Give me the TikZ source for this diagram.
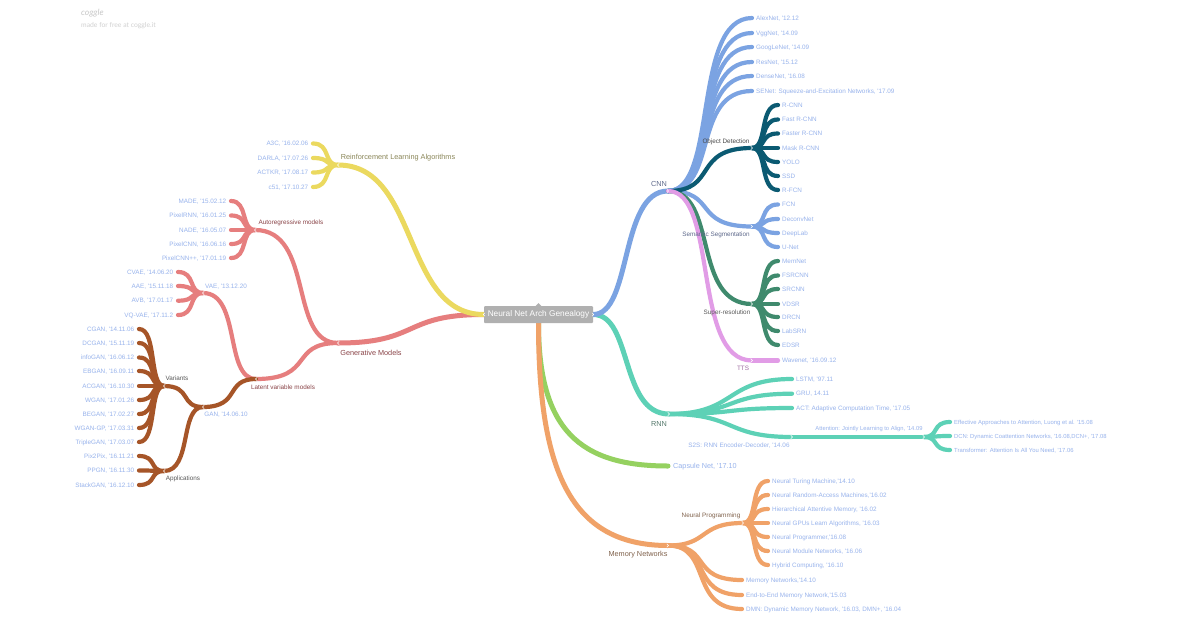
\documentclass[tikz,border=0pt]{standalone}
\usepackage{fontspec}
\usetikzlibrary{calc}
\newfontfamily\lab{Liberation Sans}
\newfontfamily\logofont{Lato}
\definecolor{cblue}{HTML}{7BA3E2}
\definecolor{cteal}{HTML}{0B5A72}
\definecolor{cgreen}{HTML}{3F8A6D}
\definecolor{cpink}{HTML}{E19CE6}
\definecolor{cmint}{HTML}{5DD1B6}
\definecolor{clime}{HTML}{95D160}
\definecolor{corange}{HTML}{F0A268}
\definecolor{cyel}{HTML}{EBD95F}
\definecolor{cred}{HTML}{E67E7E}
\definecolor{cbrown}{HTML}{A65528}
\definecolor{leaftxt}{HTML}{98B3EC}
\definecolor{tolive}{HTML}{8A8658}
\definecolor{tred}{HTML}{8A4448}
\definecolor{tbrown}{HTML}{80624C}
\definecolor{tblue}{HTML}{5F6A8C}
\definecolor{tgreen}{HTML}{55796C}
\pgfdeclarelayer{bg}
\pgfsetlayers{bg,main}
\def\lfs{6.33}
\tikzset{
  br/.style={draw=#1,line cap=round},
  leafr/.style={anchor=west,inner xsep=4pt,inner ysep=0pt,text height=6pt,text depth=1.5pt,text=leaftxt,font=\lab\fontsize{\lfs}{8}\selectfont},
  leafl/.style={leafr,anchor=east,inner xsep=4.6pt},
  tag/.style={inner sep=0pt,font=\lab\fontsize{6.35}{8}\selectfont},
  big/.style={inner sep=0pt,font=\lab\fontsize{7.3}{9}\selectfont},
  chev/.style={draw=white,line width=.5pt},
}
\def\fa{.6}\def\fb{.72}\def\cc{cblue}\def\cw{4.2pt}
\newcommand\cn[2]{\begin{pgfonlayer}{bg}\draw[br=\cc,line width=\cw] (#1) .. controls ($(#1)!\fa!(#1-|#2)$) and ($(#2)!\fb!(#2-|#1)$) .. (#2);\end{pgfonlayer}}
\newcommand\rleaf[5]{\node[leafr] (#2) at (#3,#4) {#5};\cn{#1}{#2.west}}
\newcommand\lleaf[5]{\node[leafl] (#2) at (#3,#4) {#5};\cn{#1}{#2.east}}
\newcommand\chv[2]{\draw[chev,shift={(#1)},xscale=#2] (-1.2,-1.6) -- (.6,0) -- (-1.2,1.6);}
\begin{document}
\begin{tikzpicture}[x=1pt,y=-1pt]
\useasboundingbox (0,0) rectangle (1200,630);
\begin{pgfonlayer}{bg}
\fill[white] (0,0) rectangle (1200,630);
\end{pgfonlayer}
% logo
\node[anchor=west,inner sep=0pt,text=black!22,font=\logofont\itshape\fontsize{8.5}{9}\selectfont] (lg1) at (81,13) {coggle};
\node[anchor=west,inner sep=0pt,text=black!18,font=\logofont\fontsize{6.8}{8}\selectfont] (lg2) at (81,25.5) {made for free at coggle.it};
% root
\node[fill=black!31,rounded corners=1pt,minimum width=109pt,minimum height=17pt,inner sep=0pt,text=white,font=\lab\fontsize{8.3}{10}\selectfont] (root) at (538.5,314.5) {Neural Net Arch Genealogy};
\fill[black!31] (535.5,306) -- (538.5,303) -- (541.5,306) -- cycle;
% junctions
\coordinate (cnn) at (668,191);
\coordinate (od) at (752,148);
\coordinate (ss) at (752,226.5);
\coordinate (sr) at (752,304);
\coordinate (tts) at (752,360.5);
\coordinate (rnn) at (669,414);
\coordinate (s2s) at (792,437);
\coordinate (att) at (924,437);
\coordinate (caps) at (668,466);
\coordinate (mem) at (668,545.5);
\coordinate (np) at (743,523);
\coordinate (rla) at (338,165);
\coordinate (gen) at (338,343);
\coordinate (ar) at (255,230);
\coordinate (lv) at (256,379);
\coordinate (vae) at (203,293);
\coordinate (gan) at (203,407);
\coordinate (var) at (164,386);
\coordinate (app) at (164,471);
% labels
\node[big,text=tblue] (cnnl) at (659,183.5) {CNN};
\node[tag,text=black!72] (odl) at (726,141.5) {Object Detection};
\node[tag,text=tblue] (ssl) at (716,234.5) {Semantic Segmentation};
\node[tag,text=black!65] (srl) at (727,313) {Super-resolution};
\node[tag,text=cpink!70!black] (ttsl) at (743,368.5) {TTS};
\node[big,text=tgreen] (rnnl) at (659,424) {RNN};
\node[tag,text=leaftxt] (s2sl) at (739,445.5) {S2S: RNN Encoder-Decoder, '14.06};
\node[tag,text=leaftxt,font=\lab\fontsize{5.8}{8}\selectfont] (attl) at (869,428.5) {Attention: Jointly Learning to Align, '14.09};
\node[big,text=tbrown] (meml) at (638,554.5) {Memory Networks};
\node[tag,text=tbrown] (npl) at (711,516) {Neural Programming};
\node[big,text=tolive] (rlal) at (398,157.5) {Reinforcement Learning Algorithms};
\node[big,text=tred] (genl) at (371,352.5) {Generative Models};
\node[tag,text=tred] (arl) at (291,222.5) {Autoregressive models};
\node[tag,text=tred] (lvl) at (283,387.5) {Latent variable models};
\node[tag,text=leaftxt] (vael) at (226,286.5) {VAE, '13.12.20};
\node[tag,text=leaftxt] (ganl) at (226,414.5) {GAN, '14.06.10};
\node[tag,text=black!65] (varl) at (177,378.5) {Variants};
\node[tag,text=black!65] (appl) at (183,479) {Applications};
% --- right side
\def\fa{.52}\def\fb{.65}
\def\cc{cmint}\def\cw{5pt}
\cn{root.east}{rnn}
\def\cc{cblue}
\cn{root.east}{cnn}
\def\cw{4.2pt}
\def\fa{.6}\def\fb{.72}
\rleaf{cnn}{alex}{752}{18}{AlexNet, '12.12}
\rleaf{cnn}{vgg}{752}{33}{VggNet, '14.09}
\rleaf{cnn}{goog}{752}{47}{GoogLeNet, '14.09}
\rleaf{cnn}{res}{752}{62}{ResNet, '15.12}
\rleaf{cnn}{dense}{752}{76}{DenseNet, '16.08}
\rleaf{cnn}{se}{752}{91}{SENet: Squeeze-and-Excitation Networks, '17.09}
\cn{cnn}{ss}
\def\cc{cgreen}\cn{cnn}{sr}
\def\cc{cteal}\cn{cnn}{od}
\def\cc{cpink}\cn{cnn}{tts}
\rleaf{tts}{wave}{778}{360.5}{Wavenet, '16.09.12}
\def\cc{cteal}
\rleaf{od}{rcnn}{778}{105}{R-CNN}
\rleaf{od}{fast}{778}{119.5}{Fast R-CNN}
\rleaf{od}{faster}{778}{133.5}{Faster R-CNN}
\rleaf{od}{mask}{778}{148}{Mask R-CNN}
\rleaf{od}{yolo}{778}{162}{YOLO}
\rleaf{od}{ssd}{778}{176}{SSD}
\rleaf{od}{rfcn}{778}{190}{R-FCN}
\def\cc{cblue}
\rleaf{ss}{fcn}{778}{204.5}{FCN}
\rleaf{ss}{dec}{778}{219}{DeconvNet}
\rleaf{ss}{deep}{778}{233}{DeepLab}
\rleaf{ss}{unet}{778}{247}{U-Net}
\def\cc{cgreen}
\rleaf{sr}{memn}{778}{261}{MemNet}
\rleaf{sr}{fsr}{778}{275.5}{FSRCNN}
\rleaf{sr}{src}{778}{289}{SRCNN}
\rleaf{sr}{vdsr}{778}{304}{VDSR}
\rleaf{sr}{drcn}{778}{317}{DRCN}
\rleaf{sr}{lab}{778}{331}{LabSRN}
\rleaf{sr}{edsr}{778}{345}{EDSR}
\def\cc{cmint}
\def\fa{.55}\def\fb{.55}
\rleaf{rnn}{lstm}{792}{379}{LSTM, '97.11}
\rleaf{rnn}{gru}{792}{393.7}{GRU, 14.11}
\rleaf{rnn}{act}{792}{408}{ACT: Adaptive Computation Time, '17.05}
\cn{rnn}{s2s}
\cn{s2s}{att}
\def\fa{.6}\def\fb{.72}
\def\lfs{5.87}
\rleaf{att}{eff}{950}{422}{Effective Approaches to Attention, Luong et al. '15.08}
\rleaf{att}{dcn}{950}{436}{DCN: Dynamic Coattention Networks, '16.08,DCN+, '17.08}
\rleaf{att}{trans}{950}{450}{Transformer: Attention Is All You Need, '17.06}
\def\lfs{6.33}
% --- bottom
\node[anchor=west,inner xsep=5pt,inner ysep=0pt,text height=6pt,text depth=1.6pt,text=leaftxt,font=\lab\fontsize{7.25}{9}\selectfont] (capl) at (caps) {Capsule Net, '17.10};
\begin{pgfonlayer}{bg}
\draw[br=clime,line width=5pt] (root.south) .. controls (538.5,430) and (580,466) .. (capl.west);
\draw[br=corange,line width=5pt] (root.south) .. controls (538.5,470) and (570,545.5) .. (mem);
\end{pgfonlayer}
\def\cc{corange}\def\cw{4.2pt}
\def\fa{.55}\def\fb{.6}
\cn{mem}{np}
\def\fa{.6}\def\fb{.72}
\rleaf{np}{ntm}{768}{481}{Neural Turing Machine,'14.10}
\rleaf{np}{nram}{768}{495}{Neural Random-Access Machines,'16.02}
\rleaf{np}{ham}{768}{509}{Hierarchical Attentive Memory, '16.02}
\rleaf{np}{gpu}{768}{523}{Neural GPUs Learn Algorithms, '16.03}
\rleaf{np}{prog}{768}{537}{Neural Programmer,'16.08}
\rleaf{np}{mod}{768}{551}{Neural Module Networks, '16.06}
\rleaf{np}{hyb}{768}{565}{Hybrid Computing, '16.10}
\rleaf{mem}{mn}{742}{580}{Memory Networks,'14.10}
\rleaf{mem}{e2e}{742}{595}{End-to-End Memory Network,'15.03}
\rleaf{mem}{dmn}{742}{609}{DMN: Dynamic Memory Network, '16.03, DMN+, '16.04}
% --- left side
\def\fa{.56}\def\fb{.56}
\def\cc{cred}\def\cw{5pt}
\cn{root.west}{gen}
\def\cc{cyel}
\cn{root.west}{rla}
\def\cw{4.2pt}
\def\fa{.6}\def\fb{.72}
\lleaf{rla}{a3c}{313}{143.5}{A3C, '16.02.06}
\lleaf{rla}{darla}{313}{158}{DARLA, '17.07.26}
\lleaf{rla}{actkr}{313}{172.5}{ACTKR, '17.08.17}
\lleaf{rla}{c51}{313}{187}{c51, '17.10.27}
\def\cc{cred}
\cn{gen}{ar}
\cn{gen}{lv}
\lleaf{ar}{made}{231}{201}{MADE, '15.02.12}
\lleaf{ar}{prnn}{231}{215.5}{PixelRNN, '16.01.25}
\lleaf{ar}{nade}{231}{230}{NADE, '16.05.07}
\lleaf{ar}{pcnn}{231}{244}{PixelCNN, '16.06.16}
\lleaf{ar}{pcnnp}{231}{258}{PixelCNN++, '17.01.19}
\cn{lv}{vae}
\lleaf{vae}{cvae}{178}{272}{CVAE, '14.06.20}
\lleaf{vae}{aae}{178}{286}{AAE, '15.11.18}
\lleaf{vae}{avb}{178}{300.7}{AVB, '17.01.17}
\lleaf{vae}{vq}{178}{315}{VQ-VAE, '17.11.2}
\def\cc{cbrown}
\cn{lv}{gan}
\cn{gan}{var}
\cn{gan}{app}
\lleaf{var}{cgan}{139}{329}{CGAN, '14.11.06}
\lleaf{var}{dcgan}{139}{343}{DCGAN, '15.11.19}
\lleaf{var}{info}{139}{357.5}{infoGAN, '16.06.12}
\lleaf{var}{ebgan}{139}{371}{EBGAN, '16.09.11}
\lleaf{var}{acgan}{139}{386}{ACGAN, '16.10.30}
\lleaf{var}{wgan}{139}{400}{WGAN, '17.01.26}
\lleaf{var}{began}{139}{414}{BEGAN, '17.02.27}
\lleaf{var}{wgp}{139}{428}{WGAN-GP, '17.03.31}
\lleaf{var}{triple}{139}{442}{TripleGAN, '17.03.07}
\lleaf{app}{p2p}{139}{456}{Pix2Pix, '16.11.21}
\lleaf{app}{ppgn}{139}{470.5}{PPGN, '16.11.30}
\lleaf{app}{stack}{139}{485}{StackGAN, '16.12.10}
% chevrons
\foreach \j in {cnn,od,ss,sr,tts,rnn,s2s,att,mem,np,root.east}{\chv{\j}{1}}
\foreach \j in {rla,gen,ar,lv,vae,gan,var,app,root.west}{\chv{\j}{-1}}
\end{tikzpicture}
\end{document}
